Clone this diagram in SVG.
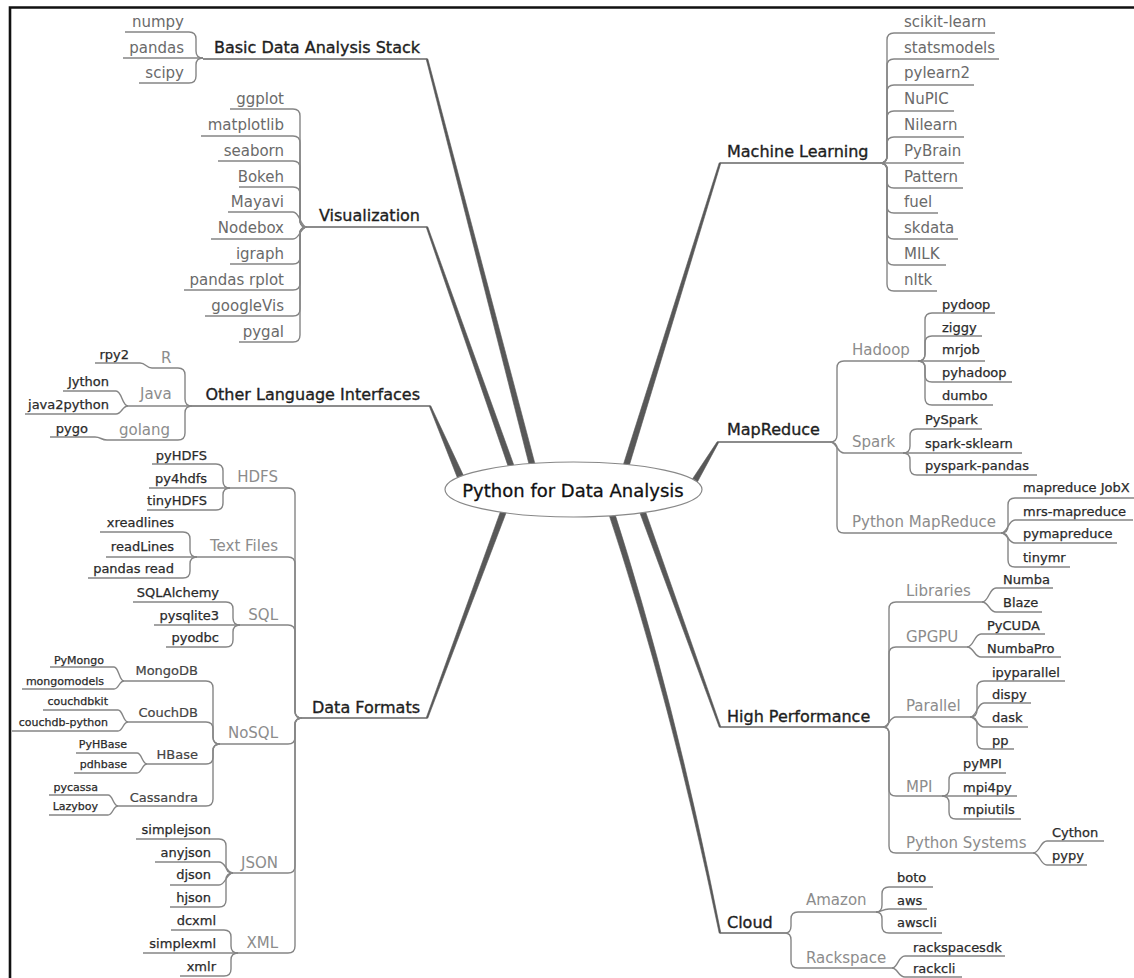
<svg xmlns="http://www.w3.org/2000/svg" width="1134" height="978" viewBox="0 0 1134 978">
<style>
text{font-family:"DejaVu Sans","Liberation Sans",sans-serif}
.main{font-size:16px;fill:#1e1e1e;stroke:#1e1e1e;stroke-width:0.35}
.root{font-size:18px;fill:#111;stroke:#111;stroke-width:0.3;text-anchor:middle}
.l2{font-size:15px;fill:#8c8c8c}
.lf{font-size:15px;fill:#6a6a6a}
.dk{font-size:13px;fill:#2a2a2a;stroke:#2a2a2a;stroke-width:0.25}
.n3{font-size:13px;fill:#444;stroke:#444;stroke-width:0.2}
.sm{font-size:11px;fill:#2a2a2a;stroke:#2a2a2a;stroke-width:0.25}
.e{text-anchor:end}
.c{stroke:#858585;stroke-width:1.4;fill:none}
.u{stroke:#666;stroke-width:1.6;fill:none}
.br{fill:#585858;stroke:#585858;stroke-width:0.6;stroke-linejoin:round}
</style>
<path d="M10,978 V7.5 H1134" fill="none" stroke="#111" stroke-width="2.6"/>
<g id="connectors">
<path class="br" d="M538.5,477.2 L427.8,58.8 L426.2,59.2 L532.7,478.8 Z"/>
<path class="br" d="M518.1,477 L427.75,226.7 L426.25,227.3 L512.5,479 Z"/>
<path class="br" d="M467.2,483.6 L430.7,405.7 L429.3,406.3 L460.8,486.4 Z"/>
<path class="br" d="M510.6,501 L427.75,718.3 L426.25,717.7 L505,499 Z"/>
<path class="br" d="M625.2,478.9 L720.8,163.2 L719.2,162.8 L619.4,477.1 Z"/>
<path class="br" d="M691,493.8 L718.7,442.4 L717.3,441.6 L685,490.2 Z"/>
<path class="br" d="M641.1,499 L720.75,726.7 L719.25,727.3 L635.5,501 Z"/>
<path class="br" d="M611.9,504.3 Q674.9,699.5 720.8,932.8 L719.2,933.2 Q671.1,700.5 606.1,505.7 Z"/>
<path class="u" d="M203,59 H427"/>
<path class="u" d="M307,227 H427"/>
<path class="u" d="M192,406 H430"/>
<path class="u" d="M302,718 H427"/>
<path class="u" d="M720,163 H880"/>
<path class="u" d="M718,442 H830"/>
<path class="u" d="M720,727 H883"/>
<path class="u" d="M720,933 H785"/>
<path class="c" d="M125,32 H189 Q196,32 196,39 V51 Q196,58 203,58"/>
<path class="c" d="M123,58 H203"/>
<path class="c" d="M139,83 H189 Q196,83 196,76 V65 Q196,58 203,58"/>
<path class="c" d="M230,109 H293 Q300,109 300,116 V220 Q300,227 307,227"/>
<path class="c" d="M201,136 H293 Q300,136 300,143 V220 Q300,227 307,227"/>
<path class="c" d="M218,161 H293 Q300,161 300,168 V220 Q300,227 307,227"/>
<path class="c" d="M239,187 H293 Q300,187 300,194 V220 Q300,227 307,227"/>
<path class="c" d="M228,212 H293 C300,212 300,227 307,227"/>
<path class="c" d="M211,239 H293 C300,239 300,227 307,227"/>
<path class="c" d="M230,264 H293 Q300,264 300,257 V234 Q300,227 307,227"/>
<path class="c" d="M184,290 H293 Q300,290 300,283 V234 Q300,227 307,227"/>
<path class="c" d="M205,316 H293 Q300,316 300,309 V234 Q300,227 307,227"/>
<path class="c" d="M239,342 H293 Q300,342 300,335 V234 Q300,227 307,227"/>
<path class="c" d="M152,368 H178 Q185,368 185,375 V399 Q185,406 192,406"/>
<path class="c" d="M95,363 H140 C146,363 146,368 152,368"/>
<path class="c" d="M128,406 H192"/>
<path class="c" d="M63,391 H116 C122,391 122,406 128,406"/>
<path class="c" d="M25,414 H116 C122,414 122,406 128,406"/>
<path class="c" d="M107,440 H178 Q185,440 185,433 V413 Q185,406 192,406"/>
<path class="c" d="M50,437 H95 C101,437 101,440 107,440"/>
<path class="c" d="M230,488 H288 Q295,488 295,495 V711 Q295,718 302,718"/>
<path class="c" d="M197,557 H288 Q295,557 295,564 V711 Q295,718 302,718"/>
<path class="c" d="M240,625 H288 Q295,625 295,632 V711 Q295,718 302,718"/>
<path class="c" d="M220,744 H288 Q295,744 295,737 V725 Q295,718 302,718"/>
<path class="c" d="M233,873 H288 Q295,873 295,866 V725 Q295,718 302,718"/>
<path class="c" d="M238,953 H288 Q295,953 295,946 V725 Q295,718 302,718"/>
<path class="c" d="M152,464 H216 Q223,464 223,471 V481 Q223,488 230,488"/>
<path class="c" d="M149,488 H230"/>
<path class="c" d="M147,510 H216 Q223,510 223,503 V495 Q223,488 230,488"/>
<path class="c" d="M100,532 H183 Q190,532 190,539 V550 Q190,557 197,557"/>
<path class="c" d="M106,557 H197"/>
<path class="c" d="M88,578 H183 Q190,578 190,571 V564 Q190,557 197,557"/>
<path class="c" d="M133,602 H226 Q233,602 233,609 V618 Q233,625 240,625"/>
<path class="c" d="M154,625 H240"/>
<path class="c" d="M166,647 H226 Q233,647 233,640 V632 Q233,625 240,625"/>
<path class="c" d="M124,681 H206 Q213,681 213,688 V737 Q213,744 220,744"/>
<path class="c" d="M128,722 H206 Q213,722 213,729 V737 Q213,744 220,744"/>
<path class="c" d="M147,764 H206 Q213,764 213,757 V751 Q213,744 220,744"/>
<path class="c" d="M118,806 H206 Q213,806 213,799 V751 Q213,744 220,744"/>
<path class="c" d="M50,667 H114 C119,667 119,681 124,681"/>
<path class="c" d="M22,689 H114 C119,689 119,681 124,681"/>
<path class="c" d="M43,710 H118 C123,710 123,722 128,722"/>
<path class="c" d="M12,731 H118 C123,731 123,722 128,722"/>
<path class="c" d="M76,753 H137 C142,753 142,764 147,764"/>
<path class="c" d="M74,773 H137 C142,773 142,764 147,764"/>
<path class="c" d="M49,795 H108 C113,795 113,806 118,806"/>
<path class="c" d="M49,815 H108 C113,815 113,806 118,806"/>
<path class="c" d="M136,839 H219 Q226,839 226,846 V866 Q226,873 233,873"/>
<path class="c" d="M155,862 H219 C226,862 226,873 233,873"/>
<path class="c" d="M170,885 H219 C226,885 226,873 233,873"/>
<path class="c" d="M170,907 H219 Q226,907 226,900 V880 Q226,873 233,873"/>
<path class="c" d="M171,930 H224 Q231,930 231,937 V946 Q231,953 238,953"/>
<path class="c" d="M143,953 H238"/>
<path class="c" d="M180,976 H224 Q231,976 231,969 V960 Q231,953 238,953"/>
<path class="c" d="M880,163 Q887,163 887,156 V40 Q887,33 894,33 H995"/>
<path class="c" d="M880,163 Q887,163 887,156 V66 Q887,59 894,59 H999"/>
<path class="c" d="M880,163 Q887,163 887,156 V92 Q887,85 894,85 H974"/>
<path class="c" d="M880,163 Q887,163 887,156 V118 Q887,111 894,111 H954"/>
<path class="c" d="M880,163 Q887,163 887,156 V144 Q887,137 894,137 H964"/>
<path class="c" d="M880,163 H964"/>
<path class="c" d="M880,163 Q887,163 887,170 V181 Q887,188 894,188 H963"/>
<path class="c" d="M880,163 Q887,163 887,170 V206 Q887,213 894,213 H938"/>
<path class="c" d="M880,163 Q887,163 887,170 V232 Q887,239 894,239 H958"/>
<path class="c" d="M880,163 Q887,163 887,170 V258 Q887,265 894,265 H946"/>
<path class="c" d="M880,163 Q887,163 887,170 V284 Q887,291 894,291 H937"/>
<path class="c" d="M830,442 Q837,442 837,435 V368 Q837,361 844,361 H918"/>
<path class="c" d="M830,442 C837,442 837,453 844,453 H903"/>
<path class="c" d="M830,442 Q837,442 837,449 V526 Q837,533 844,533 H1001"/>
<path class="c" d="M918,361 Q925,361 925,354 V320 Q925,313 932,313 H995"/>
<path class="c" d="M918,361 Q925,361 925,354 V343 Q925,336 932,336 H982"/>
<path class="c" d="M918,361 H985"/>
<path class="c" d="M918,361 Q925,361 925,368 V375 Q925,382 932,382 H1012"/>
<path class="c" d="M918,361 Q925,361 925,368 V398 Q925,405 932,405 H993"/>
<path class="c" d="M903,453 Q910,453 910,446 V436 Q910,429 917,429 H982"/>
<path class="c" d="M903,453 H1022"/>
<path class="c" d="M903,453 Q910,453 910,460 V468 Q910,475 917,475 H1037"/>
<path class="c" d="M1001,533 Q1008,533 1008,526 V505 Q1008,498 1015,498 H1134"/>
<path class="c" d="M1001,533 C1008,533 1008,520 1015,520 H1133"/>
<path class="c" d="M1001,533 C1008,533 1008,543 1015,543 H1117"/>
<path class="c" d="M1001,533 Q1008,533 1008,540 V560 Q1008,567 1015,567 H1070"/>
<path class="c" d="M883,727 Q889,727 889,720 V609 Q889,602 896,602 H982"/>
<path class="c" d="M883,727 Q889,727 889,720 V654 Q889,647 896,647 H967"/>
<path class="c" d="M883,727 C889,727 889,717 896,717 H970"/>
<path class="c" d="M883,727 Q889,727 889,734 V789 Q889,796 896,796 H942"/>
<path class="c" d="M883,727 Q889,727 889,734 V846 Q889,853 896,853 H1033"/>
<path class="c" d="M982,602 C989,602 989,588 996,588 H1053"/>
<path class="c" d="M982,602 C989,602 989,612 996,612 H1042"/>
<path class="c" d="M967,647 C974,647 974,634 981,634 H1045"/>
<path class="c" d="M967,647 C974,647 974,657 981,657 H1061"/>
<path class="c" d="M970,717 Q977,717 977,710 V688 Q977,681 984,681 H1065"/>
<path class="c" d="M970,717 C977,717 977,703 984,703 H1031"/>
<path class="c" d="M970,717 C977,717 977,727 984,727 H1028"/>
<path class="c" d="M970,717 Q977,717 977,724 V742 Q977,749 984,749 H1014"/>
<path class="c" d="M942,796 Q949,796 949,789 V780 Q949,773 956,773 H1006"/>
<path class="c" d="M942,796 H1017"/>
<path class="c" d="M942,796 Q949,796 949,803 V812 Q949,819 956,819 H1021"/>
<path class="c" d="M1033,853 C1040,853 1040,841 1047,841 H1104"/>
<path class="c" d="M1033,853 C1040,853 1040,865 1047,865 H1087"/>
<path class="c" d="M785,933 Q791,933 791,926 V919 Q791,912 798,912 H876"/>
<path class="c" d="M785,933 Q791,933 791,940 V961 Q791,968 798,968 H892"/>
<path class="c" d="M876,912 Q882,912 882,905 V894 Q882,887 889,887 H933"/>
<path class="c" d="M876,912 C882,912 882,909 889,909 H927"/>
<path class="c" d="M876,912 Q882,912 882,919 V926 Q882,933 889,933 H942"/>
<path class="c" d="M892,968 C898,968 898,956 905,956 H1005"/>
<path class="c" d="M892,968 C898,968 898,977 905,977 H962"/>
</g>
<g id="root"><ellipse cx="573.5" cy="489.5" rx="128.5" ry="27.5" fill="#fff" stroke="#888" stroke-width="1.2"/><text class="root" x="573" y="497">Python for Data Analysis</text></g>
<g id="basic-stack"><text class="main e" x="420" y="53">Basic Data Analysis Stack</text></g>
<g id="numpy"><text class="lf e" x="184" y="27">numpy</text></g>
<g id="pandas"><text class="lf e" x="184" y="53">pandas</text></g>
<g id="scipy"><text class="lf e" x="184" y="78">scipy</text></g>
<g id="visualization"><text class="main e" x="420" y="221">Visualization</text></g>
<g id="ggplot"><text class="lf e" x="284" y="104">ggplot</text></g>
<g id="matplotlib"><text class="lf e" x="284" y="130">matplotlib</text></g>
<g id="seaborn"><text class="lf e" x="284" y="156">seaborn</text></g>
<g id="bokeh"><text class="lf e" x="284" y="182">Bokeh</text></g>
<g id="mayavi"><text class="lf e" x="284" y="207">Mayavi</text></g>
<g id="nodebox"><text class="lf e" x="284" y="233">Nodebox</text></g>
<g id="igraph"><text class="lf e" x="284" y="259">igraph</text></g>
<g id="pandas-rplot"><text class="lf e" x="284" y="285">pandas rplot</text></g>
<g id="googlevis"><text class="lf e" x="284" y="311">googleVis</text></g>
<g id="pygal"><text class="lf e" x="284" y="337">pygal</text></g>
<g id="other-lang"><text class="main e" x="420" y="400">Other Language Interfaces</text></g>
<g id="r"><text class="l2" x="161" y="363">R</text></g>
<g id="java"><text class="l2" x="140" y="399">Java</text></g>
<g id="golang"><text class="l2" x="119" y="435">golang</text></g>
<g id="rpy2"><text class="dk e" x="129" y="359">rpy2</text></g>
<g id="jython"><text class="dk e" x="109" y="386">Jython</text></g>
<g id="java2python"><text class="dk e" x="109" y="409">java2python</text></g>
<g id="pygo"><text class="dk e" x="88" y="433">pygo</text></g>
<g id="data-formats"><text class="main e" x="420" y="713">Data Formats</text></g>
<g id="hdfs"><text class="l2 e" x="278" y="482">HDFS</text></g>
<g id="text-files"><text class="l2 e" x="278" y="551">Text Files</text></g>
<g id="sql"><text class="l2 e" x="278" y="620">SQL</text></g>
<g id="nosql"><text class="l2 e" x="278" y="738">NoSQL</text></g>
<g id="json"><text class="l2 e" x="278" y="868">JSON</text></g>
<g id="xml"><text class="l2 e" x="278" y="948">XML</text></g>
<g id="pyhdfs"><text class="dk e" x="207" y="460">pyHDFS</text></g>
<g id="py4hdfs"><text class="dk e" x="207" y="483">py4hdfs</text></g>
<g id="tinyhdfs"><text class="dk e" x="207" y="505">tinyHDFS</text></g>
<g id="xreadlines"><text class="dk e" x="174" y="527">xreadlines</text></g>
<g id="readlines"><text class="dk e" x="174" y="551">readLines</text></g>
<g id="pandas-read"><text class="dk e" x="174" y="573">pandas read</text></g>
<g id="sqlalchemy"><text class="dk e" x="219" y="597">SQLAlchemy</text></g>
<g id="pysqlite3"><text class="dk e" x="219" y="620">pysqlite3</text></g>
<g id="pyodbc"><text class="dk e" x="219" y="642">pyodbc</text></g>
<g id="mongodb"><text class="n3 e" x="198" y="675">MongoDB</text></g>
<g id="couchdb"><text class="n3 e" x="198" y="717">CouchDB</text></g>
<g id="hbase"><text class="n3 e" x="198" y="759">HBase</text></g>
<g id="cassandra"><text class="n3 e" x="198" y="802">Cassandra</text></g>
<g id="pymongo"><text class="sm e" x="104" y="664">PyMongo</text></g>
<g id="mongomodels"><text class="sm e" x="104" y="685">mongomodels</text></g>
<g id="couchdbkit"><text class="sm e" x="108" y="705">couchdbkit</text></g>
<g id="couchdb-python"><text class="sm e" x="108" y="726">couchdb-python</text></g>
<g id="pyhbase"><text class="sm e" x="127" y="748">PyHBase</text></g>
<g id="pdhbase"><text class="sm e" x="127" y="768">pdhbase</text></g>
<g id="pycassa"><text class="sm e" x="98" y="791">pycassa</text></g>
<g id="lazyboy"><text class="sm e" x="98" y="810">Lazyboy</text></g>
<g id="simplejson"><text class="dk e" x="211" y="834">simplejson</text></g>
<g id="anyjson"><text class="dk e" x="211" y="857">anyjson</text></g>
<g id="djson"><text class="dk e" x="211" y="879">djson</text></g>
<g id="hjson"><text class="dk e" x="211" y="902">hjson</text></g>
<g id="dcxml"><text class="dk e" x="216" y="925">dcxml</text></g>
<g id="simplexml"><text class="dk e" x="216" y="948">simplexml</text></g>
<g id="xmlr"><text class="dk e" x="216" y="971">xmlr</text></g>
<g id="machine-learning"><text class="main" x="727" y="157">Machine Learning</text></g>
<g id="scikit-learn"><text class="lf" x="904" y="27">scikit-learn</text></g>
<g id="statsmodels"><text class="lf" x="904" y="53">statsmodels</text></g>
<g id="pylearn2"><text class="lf" x="904" y="78">pylearn2</text></g>
<g id="nupic"><text class="lf" x="904" y="104">NuPIC</text></g>
<g id="nilearn"><text class="lf" x="904" y="130">Nilearn</text></g>
<g id="pybrain"><text class="lf" x="904" y="156">PyBrain</text></g>
<g id="pattern"><text class="lf" x="904" y="182">Pattern</text></g>
<g id="fuel"><text class="lf" x="904" y="207">fuel</text></g>
<g id="skdata"><text class="lf" x="904" y="233">skdata</text></g>
<g id="milk"><text class="lf" x="904" y="259">MILK</text></g>
<g id="nltk"><text class="lf" x="904" y="285">nltk</text></g>
<g id="mapreduce"><text class="main" x="727" y="435">MapReduce</text></g>
<g id="hadoop"><text class="l2" x="852" y="355">Hadoop</text></g>
<g id="spark"><text class="l2" x="852" y="447">Spark</text></g>
<g id="python-mapreduce"><text class="l2" x="852" y="527">Python MapReduce</text></g>
<g id="pydoop"><text class="dk" x="942" y="309">pydoop</text></g>
<g id="ziggy"><text class="dk" x="942" y="332">ziggy</text></g>
<g id="mrjob"><text class="dk" x="942" y="354">mrjob</text></g>
<g id="pyhadoop"><text class="dk" x="942" y="377">pyhadoop</text></g>
<g id="dumbo"><text class="dk" x="942" y="400">dumbo</text></g>
<g id="pyspark"><text class="dk" x="925" y="424">PySpark</text></g>
<g id="spark-sklearn"><text class="dk" x="925" y="448">spark-sklearn</text></g>
<g id="pyspark-pandas"><text class="dk" x="925" y="470">pyspark-pandas</text></g>
<g id="mapreduce-jobx"><text class="dk" x="1023" y="492">mapreduce JobX</text></g>
<g id="mrs-mapreduce"><text class="dk" x="1023" y="516">mrs-mapreduce</text></g>
<g id="pymapreduce"><text class="dk" x="1023" y="538">pymapreduce</text></g>
<g id="tinymr"><text class="dk" x="1023" y="562">tinymr</text></g>
<g id="high-performance"><text class="main" x="727" y="722">High Performance</text></g>
<g id="libraries"><text class="l2" x="906" y="596">Libraries</text></g>
<g id="gpgpu"><text class="l2" x="906" y="642">GPGPU</text></g>
<g id="parallel"><text class="l2" x="906" y="711">Parallel</text></g>
<g id="mpi"><text class="l2" x="906" y="792">MPI</text></g>
<g id="python-systems"><text class="l2" x="906" y="848">Python Systems</text></g>
<g id="numba"><text class="dk" x="1003" y="584">Numba</text></g>
<g id="blaze"><text class="dk" x="1003" y="607">Blaze</text></g>
<g id="pycuda"><text class="dk" x="987" y="630">PyCUDA</text></g>
<g id="numbapro"><text class="dk" x="987" y="653">NumbaPro</text></g>
<g id="ipyparallel"><text class="dk" x="992" y="677">ipyparallel</text></g>
<g id="dispy"><text class="dk" x="992" y="699">dispy</text></g>
<g id="dask"><text class="dk" x="992" y="722">dask</text></g>
<g id="pp"><text class="dk" x="992" y="745">pp</text></g>
<g id="pympi"><text class="dk" x="963" y="768">pyMPI</text></g>
<g id="mpi4py"><text class="dk" x="963" y="792">mpi4py</text></g>
<g id="mpiutils"><text class="dk" x="963" y="814">mpiutils</text></g>
<g id="cython"><text class="dk" x="1052" y="837">Cython</text></g>
<g id="pypy"><text class="dk" x="1052" y="860">pypy</text></g>
<g id="cloud"><text class="main" x="727" y="928">Cloud</text></g>
<g id="amazon"><text class="l2" x="806" y="905">Amazon</text></g>
<g id="rackspace"><text class="l2" x="806" y="963">Rackspace</text></g>
<g id="boto"><text class="dk" x="897" y="882">boto</text></g>
<g id="aws"><text class="dk" x="897" y="905">aws</text></g>
<g id="awscli"><text class="dk" x="897" y="927">awscli</text></g>
<g id="rackspacesdk"><text class="dk" x="913" y="952">rackspacesdk</text></g>
<g id="rackcli"><text class="dk" x="913" y="973">rackcli</text></g>
</svg>
